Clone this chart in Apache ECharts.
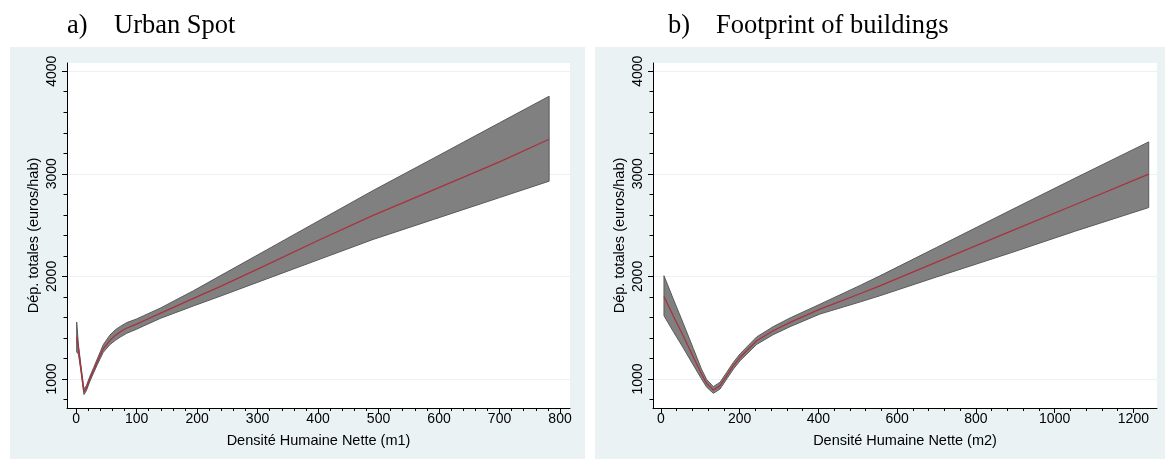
<!DOCTYPE html>
<html><head><meta charset="utf-8">
<script src="https://cdn.jsdelivr.net/npm/echarts@6/dist/echarts.min.js"></script>
<style>html,body{margin:0;padding:0;background:#fff}#c{width:1165px;height:459px}</style>
</head><body><div id="c"></div>
<script>
// Panel a) Urban Spot
const xA   = [1, 4, 8, 13, 17, 23, 29, 35, 40, 45, 56, 65, 73, 84, 100, 111, 139, 194, 238, 315, 400, 491, 591, 700, 782];
const midA = [1410, 1290, 1104, 873, 910, 1004, 1085, 1165, 1231, 1296, 1377, 1425, 1460, 1497, 1535, 1565, 1640, 1785, 1900, 2112, 2350, 2594, 2844, 3117, 3337];
const upA  = [1555, 1330, 1132, 903, 935, 1028, 1110, 1195, 1265, 1335, 1428, 1480, 1512, 1550, 1585, 1615, 1690, 1860, 2005, 2258, 2538, 2837, 3152, 3497, 3756];
const loA  = [1263, 1240, 1076, 848, 885, 980, 1060, 1138, 1200, 1260, 1335, 1377, 1408, 1446, 1485, 1515, 1590, 1712, 1806, 1975, 2161, 2360, 2555, 2768, 2928];
// Panel b) Footprint of buildings
const xB   = [7.6, 31, 57, 82, 103, 116, 133, 150, 167, 184, 201, 243, 285, 328, 404, 507, 556, 700, 889, 1050, 1239];
const midB = [1804, 1617, 1417, 1215, 1049, 957, 893, 935, 1032, 1130, 1211, 1373, 1470, 1551, 1681, 1833, 1908, 2138, 2441, 2696, 2996];
const upB  = [2006, 1782, 1538, 1298, 1095, 995, 925, 968, 1065, 1163, 1245, 1410, 1510, 1595, 1729, 1914, 2005, 2282, 2646, 2954, 3311];
const loB  = [1616, 1464, 1300, 1136, 1000, 920, 860, 902, 1000, 1097, 1178, 1337, 1432, 1510, 1633, 1752, 1811, 1994, 2230, 2438, 2671];
// Ticks
const yMajor  = [1000, 2000, 3000, 4000];
const yMinor  = [800, 1200, 1400, 1600, 1800, 2200, 2400, 2600, 2800, 3200, 3400, 3600, 3800];
const xMajorA = [0, 100, 200, 300, 400, 500, 600, 700, 800];
const xMajorB = [0, 200, 400, 600, 800, 1000, 1200];
const xMinorA = []; for (let v = 20; v < 800; v += 20) if (v % 100) xMinorA.push(v);
const xMinorB = []; for (let v = 40; v < 1240; v += 40) if (v % 200) xMinorB.push(v);

const BG = '#eaf2f3';
const SANS = 'Liberation Sans';
const SERIF = 'Liberation Serif';
const plain = v => String(v);

function xAxes(grid, min, max, major, minor, name) {
  return [{
    gridIndex: grid, type: 'value', position: 'bottom', min: min, max: max,
    axisLine: {show: true, onZero: false, lineStyle: {color: '#000', width: 1}},
    axisTick: {show: true, customValues: major, length: 5, lineStyle: {color: '#000'}},
    axisLabel: {show: true, customValues: major, formatter: plain, margin: 4, color: '#000', fontSize: 14, fontFamily: SANS},
    splitLine: {show: false},
    name: name, nameLocation: 'middle', nameGap: 25,
    nameTextStyle: {color: '#000', fontSize: 14.5, fontFamily: SANS}
  }, {
    gridIndex: grid, type: 'value', position: 'bottom', min: min, max: max,
    axisLine: {show: false, onZero: false},
    axisTick: {show: true, customValues: minor, length: 3, lineStyle: {color: '#000'}},
    axisLabel: {show: false}, splitLine: {show: false}
  }];
}
function yAxes(grid) {
  return [{
    gridIndex: grid, type: 'value', position: 'left', min: 717, max: 4080, splitNumber: 3,
    axisLine: {show: true, onZero: false, lineStyle: {color: '#000', width: 1}},
    axisTick: {show: true, customValues: yMajor, length: 5, lineStyle: {color: '#000'}},
    axisLabel: {show: true, customValues: yMajor, formatter: plain, rotate: 90, margin: 8, color: '#000', fontSize: 14, fontFamily: SANS},
    splitLine: {show: true, lineStyle: {color: BG, width: 1}},
    name: 'Dép. totales (euros/hab)', nameLocation: 'middle', nameGap: 26,
    nameTextStyle: {color: '#000', fontSize: 14.5, fontFamily: SANS}
  }, {
    gridIndex: grid, type: 'value', position: 'left', min: 717, max: 4080,
    axisLine: {show: false, onZero: false},
    axisTick: {show: true, customValues: yMinor, length: 3.5, lineStyle: {color: '#000'}},
    axisLabel: {show: false}, splitLine: {show: false}
  }];
}
function band(xi, yi, xs, lo, up) {
  return {
    type: 'custom', xAxisIndex: xi, yAxisIndex: yi, z: 2, silent: true,
    data: xs.map((x, i) => [x, lo[i], up[i]]),
    renderItem: function (params, api) {
      if (params.dataIndex !== 0) return null;
      const pts = [];
      for (let i = 0; i < xs.length; i++) pts.push(api.coord([xs[i], up[i]]));
      for (let i = xs.length - 1; i >= 0; i--) pts.push(api.coord([xs[i], lo[i]]));
      return {type: 'polygon', shape: {points: pts}, style: {fill: '#808080', stroke: '#5a5a5a', lineWidth: 1}};
    }
  };
}
function midLine(xi, yi, xs, mid) {
  return {
    type: 'line', xAxisIndex: xi, yAxisIndex: yi, z: 3, silent: true,
    data: xs.map((x, i) => [x, mid[i]]), showSymbol: false, symbol: 'none',
    lineStyle: {color: '#a8323e', width: 1.3}, animation: false
  };
}
const titleStyle = {fontFamily: SERIF, fontSize: 26.5, fontWeight: 'normal', color: '#000'};

const chart = echarts.init(document.getElementById('c'), null, {renderer: 'canvas'});
chart.setOption({
  animation: false,
  backgroundColor: '#fff',
  graphic: [
    {type: 'rect', z: -10, silent: true, shape: {x: 10, y: 47, width: 575, height: 412}, style: {fill: BG}},
    {type: 'rect', z: -10, silent: true, shape: {x: 595, y: 47, width: 570, height: 412}, style: {fill: BG}}
  ],
  title: [
    {text: 'a)', left: 67, top: 13, padding: 0, textStyle: titleStyle},
    {text: 'Urban Spot', left: 114, top: 13, padding: 0, textStyle: titleStyle},
    {text: 'b)', left: 668, top: 13, padding: 0, textStyle: titleStyle},
    {text: 'Footprint of buildings', left: 716, top: 13, padding: 0, textStyle: titleStyle}
  ],
  grid: [
    {left: 67, top: 63, width: 503, height: 345, show: true, backgroundColor: '#fff', borderWidth: 0},
    {left: 653, top: 63, width: 504, height: 345, show: true, backgroundColor: '#fff', borderWidth: 0}
  ],
  xAxis: [].concat(
    xAxes(0, -15, 816.5, xMajorA, xMinorA, 'Densité Humaine Nette (m1)'),
    xAxes(1, -20.3, 1260, xMajorB, xMinorB, 'Densité Humaine Nette (m2)')
  ),
  yAxis: [].concat(yAxes(0), yAxes(1)),
  series: [
    band(0, 0, xA, loA, upA),
    midLine(0, 0, xA, midA),
    band(2, 2, xB, loB, upB),
    midLine(2, 2, xB, midB)
  ]
});
</script></body></html>
